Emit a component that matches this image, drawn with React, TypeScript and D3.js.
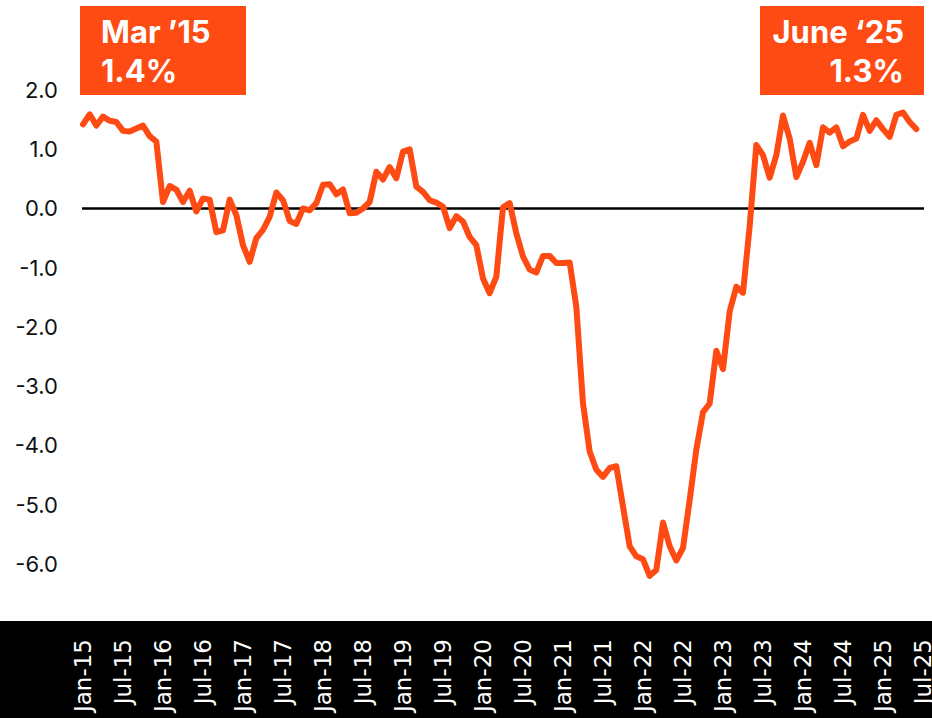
import React, { useEffect, useRef } from "react";
import * as d3 from "d3";

// monthly readings, Jan-15 .. Jun-25 (percent)
const startYear = 2015;
const values = [
  1.42, 1.59, 1.4, 1.55, 1.48, 1.46, 1.31, 1.3, 1.35, 1.4, 1.22, 1.13,
  0.11, 0.38, 0.32, 0.11, 0.3, -0.05, 0.17, 0.15, -0.4, -0.37, 0.15, -0.11,
  -0.62, -0.9, -0.5, -0.36, -0.14, 0.27, 0.14, -0.21, -0.26, 0.0, -0.03, 0.09,
  0.4, 0.41, 0.24, 0.32, -0.08, -0.07, 0.0, 0.11, 0.62, 0.49, 0.7, 0.51,
  0.96, 1.0, 0.37, 0.28, 0.14, 0.1, 0.03, -0.33, -0.13, -0.22, -0.48, -0.62,
  -1.18, -1.43, -1.15, 0.02, 0.09, -0.42, -0.81, -1.03, -1.08, -0.8, -0.8, -0.92,
  -0.92, -0.91, -1.66, -3.29, -4.1, -4.41, -4.53, -4.38, -4.35, -5.03, -5.7, -5.87,
  -5.92, -6.2, -6.1, -5.3, -5.7, -5.94, -5.73, -4.92, -4.07, -3.44, -3.29, -2.4,
  -2.71, -1.74, -1.32, -1.42, -0.3, 1.07, 0.9, 0.52, 0.9, 1.57, 1.18, 0.53,
  0.79, 1.11, 0.73, 1.37, 1.28, 1.37, 1.05, 1.13, 1.18, 1.58, 1.31, 1.49,
  1.34, 1.21, 1.58, 1.62, 1.46, 1.34,
];
const yTicks = [2, 1, 0, -1, -2, -3, -4, -5, -6];
const monthNames = ["Jan", "Jul"];
const callouts = [
  { title: "Mar \u201915", value: "1.4%", side: "left" },
  { title: "June \u201825", value: "1.3%", side: "right" },
];

const ORANGE = "#fe4a13";

export default function App() {
  const ref = useRef<SVGSVGElement>(null);

  useEffect(() => {
    const svg = d3.select(ref.current);
    svg.selectAll("*").remove();

    const width = 932;
    const height = 718;

    var x = d3.scaleLinear().domain([0, 126]).range([83, 923]);
    var y = d3.scaleLinear().domain([-6, 2]).range([564, 90]);

    // y labels
    svg
      .append("g")
      .selectAll("text")
      .data(yTicks)
      .enter()
      .append("text")
      .attr("x", 58)
      .attr("y", (d) => y(d))
      .attr("dy", "0.36em")
      .attr("text-anchor", "end")
      .attr("font-family", "Inter, sans-serif")
      .attr("font-size", "22px")
      .attr("fill", "#111")
      .text((d) => d.toFixed(1));

    // zero line
    svg
      .append("line")
      .attr("x1", 82)
      .attr("x2", 924)
      .attr("y1", y(0))
      .attr("y2", y(0))
      .attr("stroke", "#000")
      .attr("stroke-width", 2.5);

    // the series
    var line = d3
      .line<number>()
      .x((d, i) => x(i))
      .y((d) => y(d));
    svg
      .append("path")
      .datum(values)
      .attr("d", line)
      .attr("fill", "none")
      .attr("stroke", ORANGE)
      .attr("stroke-width", 6)
      .attr("stroke-linejoin", "round")
      .attr("stroke-linecap", "round");

    // black date band
    svg
      .append("rect")
      .attr("x", 0)
      .attr("y", 621)
      .attr("width", width)
      .attr("height", height - 621);

    var ticks = d3.range(0, 127, 6);
    svg
      .append("g")
      .selectAll("text")
      .data(ticks)
      .enter()
      .append("text")
      .attr("transform", (d) => "translate(" + x(d) + ",639) rotate(-90)")
      .attr("dy", "0.36em")
      .attr("text-anchor", "end")
      .attr("font-family", "DejaVu Sans, sans-serif")
      .attr("font-size", "23px")
      .attr("fill", "#fff")
      .text((d) => {
        var yr = startYear + Math.floor(d / 12);
        return monthNames[(d % 12) / 6] + "-" + String(yr).slice(2);
      });

    // callout boxes
    callouts.forEach((c) => {
      var left = c.side === "left";
      var bx = left ? 80 : 760;
      var g = svg.append("g");
      g.append("rect")
        .attr("x", bx)
        .attr("y", 6)
        .attr("width", left ? 166 : 164)
        .attr("height", 89)
        .attr("fill", ORANGE);
      var tx = left ? 101 : 904;
      [c.title, c.value].forEach((t, k) => {
        g.append("text")
          .attr("x", tx)
          .attr("y", 43 + k * 39)
          .attr("text-anchor", left ? "start" : "end")
          .attr("font-family", "Inter, sans-serif")
          .attr("font-weight", 700)
          .attr("font-size", "31px")
          .attr("fill", "#fff")
          .text(t);
      });
    });
  }, []);

  return (
    <svg
      ref={ref}
      width={932}
      height={718}
      style={{ position: "absolute", left: 0, top: 0, background: "#fff" }}
    />
  );
}
